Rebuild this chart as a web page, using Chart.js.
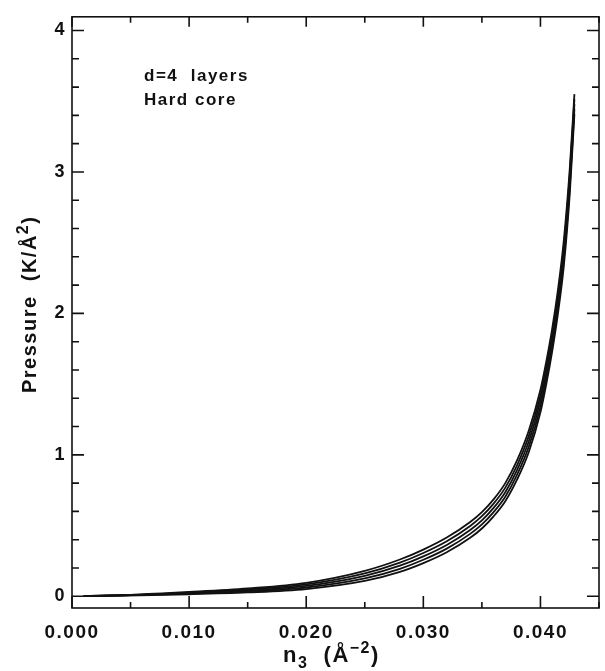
<!DOCTYPE html>
<html>
<head>
<meta charset="utf-8">
<script src="https://cdn.jsdelivr.net/npm/chart.js@4/dist/chart.umd.min.js"></script>
<style>
  html, body { margin: 0; padding: 0; background: #fff; }
  #wrap { width: 605px; height: 671px; position: relative; }
</style>
</head>
<body>
<div id="wrap"><canvas id="c"></canvas></div>
<script>
// density n3 (Å^-2)
const density = [0.001, 0.005, 0.010, 0.015, 0.020, 0.025, 0.028, 0.030, 0.032, 0.034, 0.035, 0.036, 0.037,
  0.038, 0.039, 0.040, 0.0405, 0.041, 0.0415, 0.042, 0.0425, 0.0429];

// pressure (K/Å^2), five curves
const curve1 = [0.002, 0.010, 0.030, 0.055, 0.095, 0.180, 0.260, 0.330, 0.415, 0.525, 0.595, 0.685, 0.800,
  0.960, 1.170, 1.460, 1.660, 1.890, 2.170, 2.520, 3.020, 3.550];
const curve2 = [0.002, 0.009, 0.026, 0.048, 0.084, 0.162, 0.238, 0.306, 0.389, 0.497, 0.566, 0.655, 0.768,
  0.926, 1.132, 1.420, 1.620, 1.850, 2.128, 2.475, 2.975, 3.515];
const curve3 = [0.001, 0.008, 0.022, 0.041, 0.073, 0.144, 0.216, 0.282, 0.363, 0.469, 0.537, 0.625, 0.736,
  0.892, 1.094, 1.380, 1.580, 1.810, 2.086, 2.430, 2.930, 3.480];
const curve4 = [0.001, 0.007, 0.018, 0.034, 0.062, 0.126, 0.194, 0.258, 0.337, 0.441, 0.508, 0.595, 0.704,
  0.858, 1.056, 1.340, 1.540, 1.770, 2.044, 2.385, 2.885, 3.445];
const curve5 = [0.001, 0.006, 0.014, 0.027, 0.051, 0.108, 0.172, 0.234, 0.311, 0.413, 0.479, 0.565, 0.672,
  0.824, 1.018, 1.300, 1.500, 1.730, 2.002, 2.340, 2.840, 3.410];

const xTicks = [0, 0.01, 0.02, 0.03, 0.04];
const xMinor = [0.005, 0.015, 0.025, 0.035, 0.045];
const yTicks = [0, 1, 2, 3, 4];
const yMinor = [0.2, 0.4, 0.6, 0.8, 1.2, 1.4, 1.6, 1.8, 2.2, 2.4, 2.6, 2.8, 3.2, 3.4, 3.6, 3.8];

const ink = "#111";
const fam = "'Liberation Sans', Arial, sans-serif";
const curves = [curve1, curve2, curve3, curve4, curve5];

// draws a run of [text, size, dy] pieces one after another
function run(ctx, parts, x, y) {
  for (const [t, size, dy] of parts) {
    ctx.font = "bold " + size + "px " + fam;
    ctx.fillText(t, x, y + dy);
    x += ctx.measureText(t).width;
  }
}

// box with inward ticks on all four sides, axis titles, note
const frame = {
  id: "frame",
  beforeDraw(chart) {
    chart.ctx.letterSpacing = "1.5px";
  },
  afterDraw(chart) {
    const { ctx, chartArea: a, scales: { x, y } } = chart;
    ctx.save();
    ctx.strokeStyle = ink;
    ctx.lineWidth = 1.6;
    ctx.strokeRect(a.left, a.top, a.right - a.left, a.bottom - a.top);
    ctx.beginPath();
    for (const v of xTicks) {
      const px = x.getPixelForValue(v);
      ctx.moveTo(px, a.bottom); ctx.lineTo(px, a.bottom - 12);
      ctx.moveTo(px, a.top); ctx.lineTo(px, a.top + 10);
    }
    for (const v of xMinor) {
      const px = x.getPixelForValue(v);
      ctx.moveTo(px, a.bottom); ctx.lineTo(px, a.bottom - 6);
      ctx.moveTo(px, a.top); ctx.lineTo(px, a.top + 6);
    }
    for (const v of yTicks) {
      const py = y.getPixelForValue(v);
      ctx.moveTo(a.left, py); ctx.lineTo(a.left + 12, py);
      ctx.moveTo(a.right, py); ctx.lineTo(a.right - 12, py);
    }
    for (const v of yMinor) {
      const py = y.getPixelForValue(v);
      ctx.moveTo(a.left, py); ctx.lineTo(a.left + 7, py);
      ctx.moveTo(a.right, py); ctx.lineTo(a.right - 7, py);
    }
    ctx.stroke();

    ctx.fillStyle = ink;
    ctx.textBaseline = "alphabetic";
    ctx.textAlign = "left";
    ctx.letterSpacing = "1.5px";
    ctx.font = "bold 17px " + fam;
    ctx.fillText("d=4  layers", 144, 81);
    ctx.fillText("Hard core", 144, 105);

    // x title: n3 (Å-2)
    ctx.letterSpacing = "1.5px";
    run(ctx, [["n", 22, 0], ["3", 16, 6], ["  (Å", 22, 0], ["\u22122", 16, -9], [")", 22, 0]], 283, 662);

    // y title: Pressure (K/Å2)
    ctx.translate(36, 393);
    ctx.rotate(-Math.PI / 2);
    run(ctx, [["Pressure  (K/Å", 20, 0], ["2", 16, -8], [")", 20, 0]], 0, 0);
    ctx.restore();
    ctx.letterSpacing = "0px";
  }
};

new Chart(document.getElementById("c"), {
  type: "line",
  data: {
    labels: density,
    datasets: curves.map((c, i) => ({
      label: "curve " + (i + 1),
      data: density.map((n, j) => ({ x: n, y: c[j] })),
      borderColor: ink,
      borderWidth: 1.8,
      pointRadius: 0,
      fill: false,
      cubicInterpolationMode: "monotone"
    }))
  },
  options: {
    responsive: true,
    maintainAspectRatio: false,
    animation: false,
    layout: { padding: { top: 7, right: 6, left: 0, bottom: 0 } },
    plugins: { legend: { display: false }, tooltip: { enabled: false } },
    scales: {
      x: {
        type: "linear",
        min: 0,
        max: 0.045,
        afterBuildTicks: s => { s.ticks = xTicks.map(v => ({ value: v })); },
        afterFit: s => { s.height = 63; },
        grid: { display: false, drawTicks: false },
        border: { display: false },
        ticks: {
          color: ink,
          padding: 13,
          maxRotation: 0,
          font: { family: fam, size: 19, weight: "bold" },
          callback: v => v.toFixed(3)
        }
      },
      y: {
        type: "linear",
        min: -0.083,
        max: 4.097,
        afterBuildTicks: s => { s.ticks = yTicks.map(v => ({ value: v })); },
        afterFit: s => { s.width = 72; },
        grid: { display: false, drawTicks: false },
        border: { display: false },
        ticks: {
          color: ink,
          padding: 6,
          font: { family: fam, size: 18, weight: "bold" }
        }
      }
    }
  },
  plugins: [frame]
});
</script>
</body>
</html>
